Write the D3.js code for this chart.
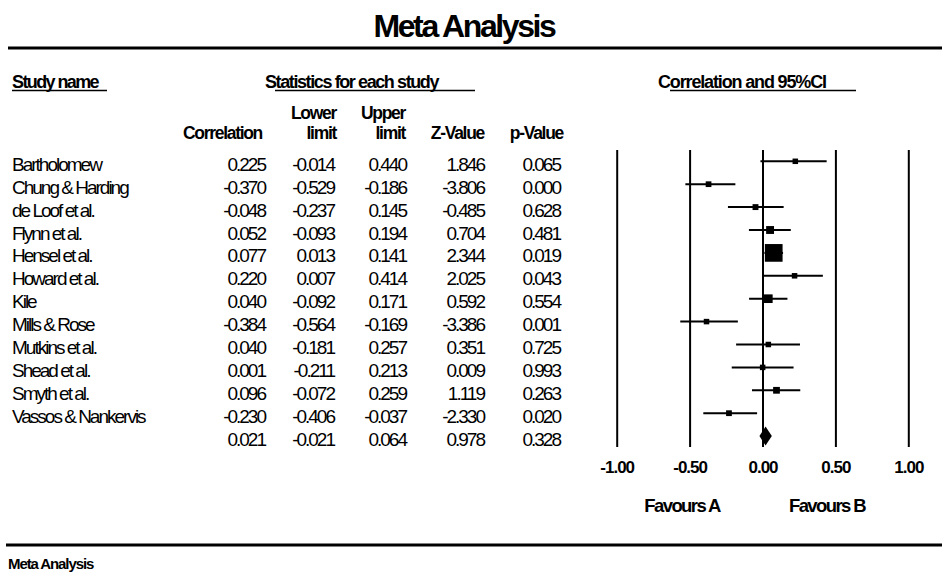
<!DOCTYPE html>
<html>
<head>
<meta charset="utf-8">
<script src="https://cdn.jsdelivr.net/npm/d3@7/dist/d3.min.js"></script>
<style>
  html, body { margin: 0; padding: 0; background: #fff; }
  svg { display: block; font-family: "Liberation Sans", Arial, sans-serif; }
</style>
</head>
<body>
<svg id="chart" width="942" height="576"></svg>
<script>
// ---- data ----
const studies = ["Bartholomew", "Chung & Harding", "de Loof et al.", "Flynn et al.", "Hensel et al.",
  "Howard et al.", "Kile", "Mills & Rose", "Mutkins et al.", "Shead et al.", "Smyth et al.",
  "Vassos & Nankervis"];
const correlation = [0.225, -0.370, -0.048, 0.052, 0.077, 0.220, 0.040, -0.384, 0.040, 0.001, 0.096, -0.230];
const lowerLimit  = [-0.014, -0.529, -0.237, -0.093, 0.013, 0.007, -0.092, -0.564, -0.181, -0.211, -0.072, -0.406];
const upperLimit  = [0.440, -0.186, 0.145, 0.194, 0.141, 0.414, 0.171, -0.169, 0.257, 0.213, 0.259, -0.037];
const zValue      = [1.846, -3.806, -0.485, 0.704, 2.344, 2.025, 0.592, -3.386, 0.351, 0.009, 1.119, -2.330];
const pValue      = [0.065, 0.000, 0.628, 0.481, 0.019, 0.043, 0.554, 0.001, 0.725, 0.993, 0.263, 0.020];
// relative weights (%)
const weights     = [3.0, 4.5, 4.8, 8.6, 43.3, 3.8, 10.3, 3.3, 3.6, 3.9, 6.3, 4.6];
const summary = { correlation: 0.021, lower: -0.021, upper: 0.064, z: 0.978, p: 0.328 };
const tickValues = [-1, -0.5, 0, 0.5, 1];
const favours = ["Favours A", "Favours B"];
const headLine1 = ["", "Lower", "Upper", "", ""];
const headLine2 = ["Correlation", "limit", "limit", "Z-Value", "p-Value"];
const sections = ["Study name", "Statistics for each study", "Correlation and 95%CI"];

// ---- layout ----
const svg = d3.select("#chart");
const FONT = "'Liberation Sans', Arial, sans-serif";

const x = d3.scaleLinear().domain([-1, 1]).range([616.7, 908.3]);
const rowIdx = d3.range(studies.length + 1);
const y = d3.scalePoint().domain(rowIdx).range([161.3, 436.1]);
const boxSize = d3.scaleSqrt().domain([0, d3.max(weights)]).range([0, 17.7]);

// title
svg.append("text").attr("x", 464).attr("y", 37).attr("text-anchor", "middle")
  .attr("font-size", 32).attr("font-weight", "bold").attr("letter-spacing", -2.4)
  .text("Meta Analysis");
svg.append("line").attr("x1", 8).attr("x2", 942).attr("y1", 48).attr("y2", 48)
  .attr("stroke", "#000").attr("stroke-width", 3);

// section headers
const secPos = [
  { x: 12, u1: 12, u2: 107, ls: -1.6 },
  { x: 265, u1: 275, u2: 475, ls: -1.4 },
  { x: 658, u1: 670, u2: 856, ls: -1.15 }
];
sections.forEach((t, i) => {
  const s = secPos[i];
  svg.append("text").attr("x", s.x).attr("y", 88).attr("font-size", 18).attr("font-weight", "bold")
    .attr("letter-spacing", s.ls).text(t);
  svg.append("line").attr("x1", s.u1).attr("x2", s.u2).attr("y1", 90.5).attr("y2", 90.5)
    .attr("stroke", "#000").attr("stroke-width", 1.5);
});

// column headers
const colRight = [265, 334, 406, 484, 560];
const headRight = [262, 336, 405, 484, 563];
headLine1.forEach((h, i) => {
  if (h) svg.append("text").attr("x", headRight[i]).attr("y", 119).attr("text-anchor", "end")
    .attr("font-size", 17.5).attr("font-weight", "bold").attr("letter-spacing", -1.3).text(h);
});
headLine2.forEach((h, i) => {
  svg.append("text").attr("x", headRight[i]).attr("y", 139).attr("text-anchor", "end")
    .attr("font-size", 17.5).attr("font-weight", "bold").attr("letter-spacing", -1.3).text(h);
});

// table rows
const rows = studies.map((s, i) => ({ name: s, vals: [correlation[i], lowerLimit[i], upperLimit[i], zValue[i], pValue[i]] }));
rows.push({ name: "", vals: [summary.correlation, summary.lower, summary.upper, summary.z, summary.p] });
const fmt = d3.format(".3f");
const tg = svg.append("g").attr("font-size", 19).attr("letter-spacing", -2);
rows.forEach((r, i) => {
  const by = y(i) + 9.5;
  if (r.name) tg.append("text").attr("x", 12).attr("y", by).text(r.name);
  r.vals.forEach((v, j) => {
    tg.append("text").attr("x", colRight[j]).attr("y", by).attr("text-anchor", "end")
      .text(fmt(v).replace("−", "-"));
  });
});

// axis with vertical grid lines
const axisTop = 150, axisBottom = 447;
const axis = d3.axisBottom(x).tickValues(tickValues).tickFormat(d3.format(".2f"))
  .tickSize(-(axisBottom - axisTop)).tickPadding(14);
const ag = svg.append("g").attr("transform", `translate(0,${axisBottom})`).call(axis);
ag.select(".domain").remove();
ag.selectAll(".tick line").attr("stroke", "#000").attr("stroke-width", 2);
ag.selectAll(".tick text").attr("fill", "#000").attr("font-family", FONT).attr("font-size", 17)
  .attr("font-weight", "bold").attr("letter-spacing", -1)
  .text(d => d3.format(".2f")(d).replace("−", "-"));

// CI lines and boxes
const fg = svg.append("g");
studies.forEach((s, i) => {
  fg.append("line").attr("x1", x(lowerLimit[i])).attr("x2", x(upperLimit[i]))
    .attr("y1", y(i)).attr("y2", y(i)).attr("stroke", "#000").attr("stroke-width", 2);
  const b = Math.max(5.5, boxSize(weights[i]));
  fg.append("rect").attr("x", x(correlation[i]) - b / 2).attr("y", y(i) - b / 2)
    .attr("width", b).attr("height", b).attr("fill", "#000");
});
// summary diamond
const sy = y(studies.length);
fg.append("path").attr("d", d3.line()([
  [x(summary.lower), sy], [x(summary.correlation), sy - 9.5],
  [x(summary.upper), sy], [x(summary.correlation), sy + 9.5]]) + "Z")
  .attr("fill", "#000");

// favours labels
const favX = [682, 827];
favours.forEach((f, i) => {
  svg.append("text").attr("x", favX[i]).attr("y", 511.5).attr("text-anchor", "middle")
    .attr("font-size", 18.5).attr("font-weight", "bold").attr("letter-spacing", -1.6).text(f);
});

// footer
svg.append("line").attr("x1", 6).attr("x2", 942).attr("y1", 545).attr("y2", 545)
  .attr("stroke", "#000").attr("stroke-width", 3);
svg.append("text").attr("x", 8).attr("y", 569).attr("font-size", 15).attr("font-weight", "bold")
  .attr("letter-spacing", -1.1).text("Meta Analysis");
</script>
</body>
</html>
